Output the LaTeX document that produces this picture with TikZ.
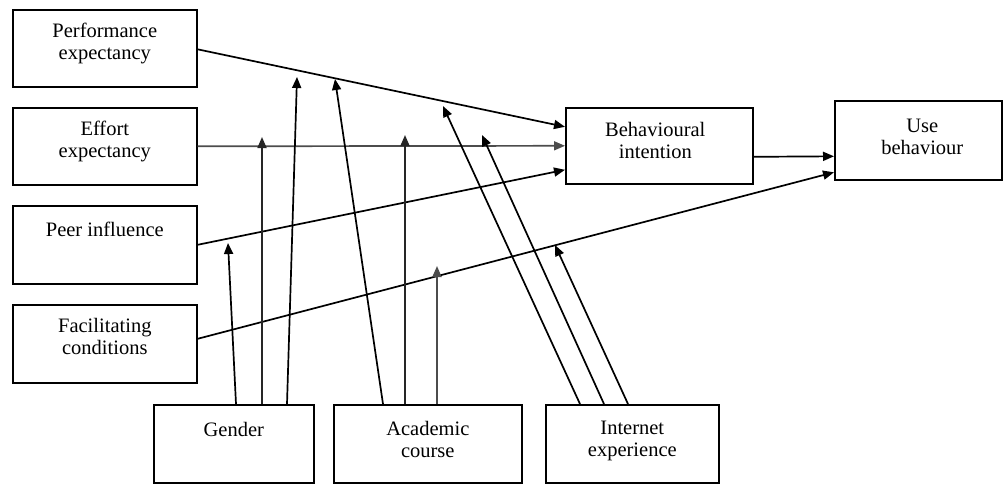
\documentclass[tikz,border=0pt]{standalone}
\usepackage{fontspec}
\setmainfont{Liberation Serif}
\usetikzlibrary{arrows.meta,calc}
\tikzset{
  box/.style={draw, line width=1.6pt, anchor=north west, inner sep=0pt},
  lbl/.style={anchor=north, align=center, inner sep=0pt, font=\fontsize{20.5}{22}\selectfont},
  arr/.style={line width=1.7pt, -{Triangle[length=11pt,width=9pt]}},
  garr/.style={arr, draw=black!70, fill=black},
  darr/.style={arr, draw=black!85, fill=black},
}
\begin{document}
\begin{tikzpicture}[x=1pt,y=-1pt]
\useasboundingbox (0,0) rectangle (1003,483);

% constructs
\node[box, minimum width=184pt, minimum height=77pt] (perf) at (12,9) {};
\node[box, minimum width=184pt, minimum height=77pt] (eff)  at (12,107) {};
\node[box, minimum width=184pt, minimum height=78pt] (peer) at (12,205) {};
\node[box, minimum width=184pt, minimum height=78pt] (fac)  at (12,304) {};
\node[box, minimum width=187pt, minimum height=76pt] (bi)   at (565,107) {};
\node[box, minimum width=167pt, minimum height=79pt] (use)  at (834,100) {};

% moderators
\node[box, minimum width=160pt, minimum height=78pt] (gen)  at (153,404) {};
\node[box, minimum width=188pt, minimum height=78pt] (acad) at (333,404) {};
\node[box, minimum width=173pt, minimum height=78pt] (inet) at (545,404) {};

% labels, set near the top of each box
\node[lbl] (tperf) at ($(perf.north)+(0,14)$) {Performance\\expectancy};
\node[lbl] (teff)  at ($(eff.north)+(0,14)$)  {Effort\\expectancy};
\node[lbl] (tpeer) at ($(peer.north)+(0,17)$) {Peer influence};
\node[lbl] (tfac)  at ($(fac.north)+(0,14)$)  {Facilitating\\conditions};
\node[lbl] (tbi)   at ($(bi.north)+(-4,15)$)  {Behavioural\\intention};
\node[lbl] (tuse)  at ($(use.north)+(4,19)$)  {Use\\behaviour};
\node[lbl] (tgen)  at ($(gen.north)+(0,18)$)  {Gender};
\node[lbl] (tacad) at ($(acad.north)+(0,17)$) {Academic\\course};
\node[lbl] (tinet) at ($(inet.north)+(0,17)$) {Internet\\experience};

% tips of the moderating arrows
\coordinate (m1) at (228,243);
\coordinate (m2) at (262,137);
\coordinate (m3) at (297,77);
\coordinate (m4) at (335,79);
\coordinate (m5) at (405,135);
\coordinate (m6) at (437,266);
\coordinate (m7) at (443,106);
\coordinate (m8) at (482,135);
\coordinate (m9) at (555,245);

% direct paths
\draw[arr]  ($(perf.east)+(0,1)$) -- ($(bi.west)+(0,-19)$);
\draw[garr] (eff.east) -- (bi.west);
\draw[arr]  (peer.east) -- ($(bi.west)+(0,24)$);
\draw[arr]  ($(fac.east)+(0,-5)$) -- ($(use.west)+(0,32)$);
\draw[arr]  ($(bi.east)+(0,11)$) -- ($(use.west)+(0,16)$);

% moderating arrows
\draw[arr]  ($(gen.north west)+(83,0)$)  -- (m1);
\draw[darr] ($(gen.north west)+(109,0)$) -- (m2);
\draw[arr]  ($(gen.north west)+(134,0)$) -- (m3);
\draw[arr]  ($(acad.north west)+(50,0)$) -- (m4);
\draw[darr] ($(acad.north west)+(72,0)$) -- (m5);
\draw[garr] ($(acad.north west)+(104,0)$) -- (m6);
\draw[arr]  ($(inet.north west)+(35,0)$) -- (m7);
\draw[arr]  ($(inet.north west)+(59,0)$) -- (m8);
\draw[arr]  ($(inet.north west)+(83,0)$) -- (m9);
\end{tikzpicture}
\end{document}
